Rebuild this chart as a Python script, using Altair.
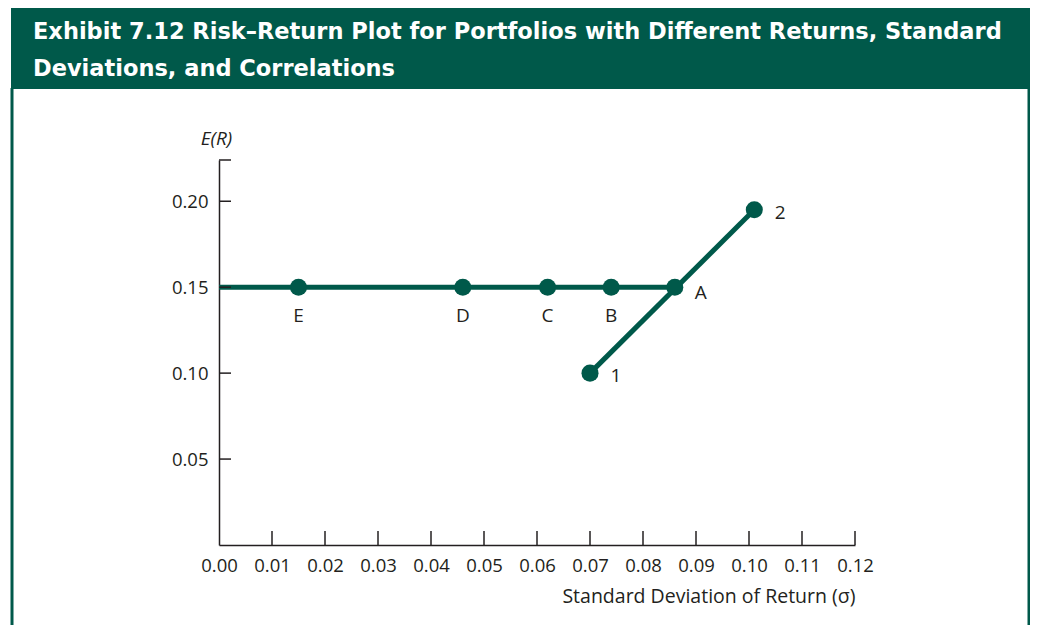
import altair as alt
import pandas as pd

# ---- data ----
names = ["E", "D", "C", "B", "A", "1", "2"]
sigma = [0.015, 0.046, 0.062, 0.074, 0.086, 0.070, 0.101]
ret = [0.15, 0.15, 0.15, 0.15, 0.15, 0.10, 0.195]
label_group = ["below", "below", "below", "below", "A", "right", "right"]

line_ids = ["flat", "flat", "cross", "cross"]
line_sigma = [0.0, 0.086, 0.070, 0.101]
line_ret = [0.15, 0.15, 0.10, 0.195]

x_ticks = [0.00, 0.01, 0.02, 0.03, 0.04, 0.05, 0.06, 0.07, 0.08, 0.09, 0.10, 0.11, 0.12]
y_ticks = [0.05, 0.10, 0.15, 0.20]
y_top = 0.224

title_lines = [
    "Exhibit 7.12 Risk\u2013Return Plot for Portfolios with Different Returns, Standard",
    "Deviations, and Correlations",
]

GREEN = "#00594A"
INK = "#231F20"
FONT = "Open Sans"
TFONT = "DejaVu Sans"

W, H = 636, 385

pts = pd.DataFrame({"name": names, "sigma": sigma, "ret": ret, "grp": label_group})
lines = pd.DataFrame({"id": line_ids, "sigma": line_sigma, "ret": line_ret})
xt = pd.DataFrame({"sigma": x_ticks[1:]})
yt = pd.DataFrame({"ret": y_ticks + [y_top]})
one = pd.DataFrame({"k": [0]})

xscale = alt.Scale(domain=[0, 0.12], nice=False, zero=False)
yscale = alt.Scale(domain=[0, y_top], nice=False, zero=False)

xenc = alt.X(
    "sigma:Q",
    scale=xscale,
    axis=alt.Axis(
        values=x_ticks,
        format=".2f",
        ticks=False,
        grid=False,
        domainColor=INK,
        domainWidth=1.5,
        labelFont=FONT,
        labelFontSize=18.5,
        labelColor=INK,
        labelPadding=11,
        labelFlush=False,
        labelOverlap=False,
        title="Standard Deviation of Return (\u03c3)",
        titleFont=FONT,
        titleFontSize=19.5,
        titleFontWeight="normal",
        titleColor=INK,
        titleAnchor="end",
        titlePadding=13,
    ),
)
yenc = alt.Y(
    "ret:Q",
    scale=yscale,
    axis=alt.Axis(
        values=y_ticks,
        format=".2f",
        ticks=False,
        grid=False,
        domainColor=INK,
        domainWidth=1.5,
        labelFont=FONT,
        labelFontSize=18.5,
        labelColor=INK,
        labelPadding=11,
        title="E(R)",
        titleFont=FONT,
        titleFontSize=19,
        titleFontStyle="italic",
        titleFontWeight="normal",
        titleColor=INK,
        titleAngle=0,
        titleAlign="center",
        titleBaseline="middle",
        titleX=-3,
        titleY=-22,
    ),
)

line_layer = alt.Chart(lines).mark_line(color=GREEN, strokeWidth=5).encode(
    x=xenc, y=yenc, detail="id:N"
)
point_layer = alt.Chart(pts).mark_circle(color=GREEN, opacity=1, size=290).encode(
    x="sigma:Q", y="ret:Q"
)
lab_below = alt.Chart(pts).transform_filter(alt.datum.grp == "below").mark_text(
    font=FONT, fontSize=19, color=INK, align="center", baseline="middle", dy=29
).encode(x="sigma:Q", y="ret:Q", text="name:N")
lab_a = alt.Chart(pts).transform_filter(alt.datum.grp == "A").mark_text(
    font=FONT, fontSize=19, color=INK, align="center", baseline="middle", dx=26, dy=6
).encode(x="sigma:Q", y="ret:Q", text="name:N")
lab_right = alt.Chart(pts).transform_filter(alt.datum.grp == "right").mark_text(
    font=FONT, fontSize=19, color=INK, align="center", baseline="middle", dx=26, dy=3
).encode(x="sigma:Q", y="ret:Q", text="name:N")

xtick_layer = alt.Chart(xt).mark_rule(color=INK, strokeWidth=1.5).encode(
    x="sigma:Q", y=alt.value(H), y2=alt.value(H - 14)
)
ytick_layer = alt.Chart(yt).mark_rule(color=INK, strokeWidth=1.5).encode(
    y="ret:Q", x=alt.value(0), x2=alt.value(12)
)

# header band and frame
band = alt.Chart(one).mark_rect(color=GREEN).encode(
    x=alt.value(-208), x2=alt.value(811), y=alt.value(-160), y2=alt.value(-71)
)
left_border = alt.Chart(one).mark_rule(color=GREEN, strokeWidth=3).encode(
    x=alt.value(-207), y=alt.value(-72), y2=alt.value(H + 100)
)
right_border = alt.Chart(one).mark_rule(color=GREEN, strokeWidth=3).encode(
    x=alt.value(810), y=alt.value(-72), y2=alt.value(H + 100)
)
t1 = alt.Chart(one).mark_text(
    font=TFONT, fontWeight="bold", fontSize=22.5, color="white",
    align="left", baseline="alphabetic"
).encode(x=alt.value(-186), y=alt.value(-121), text=alt.value(title_lines[0]))
t2 = alt.Chart(one).mark_text(
    font=TFONT, fontWeight="bold", fontSize=22.5, color="white",
    align="left", baseline="alphabetic"
).encode(x=alt.value(-186), y=alt.value(-84), text=alt.value(title_lines[1]))

chart = alt.layer(
    band, left_border, right_border, t1, t2,
    line_layer, xtick_layer, ytick_layer, point_layer, lab_below, lab_a, lab_right,
).properties(
    width=W, height=H,
    padding={"left": 211, "top": 152, "right": 175, "bottom": 80},
    autosize=alt.AutoSizeParams(type="none"),
    background="white",
).configure_view(stroke=None)

chart.save("out.html", embed_options={"renderer": "svg", "actions": False})
